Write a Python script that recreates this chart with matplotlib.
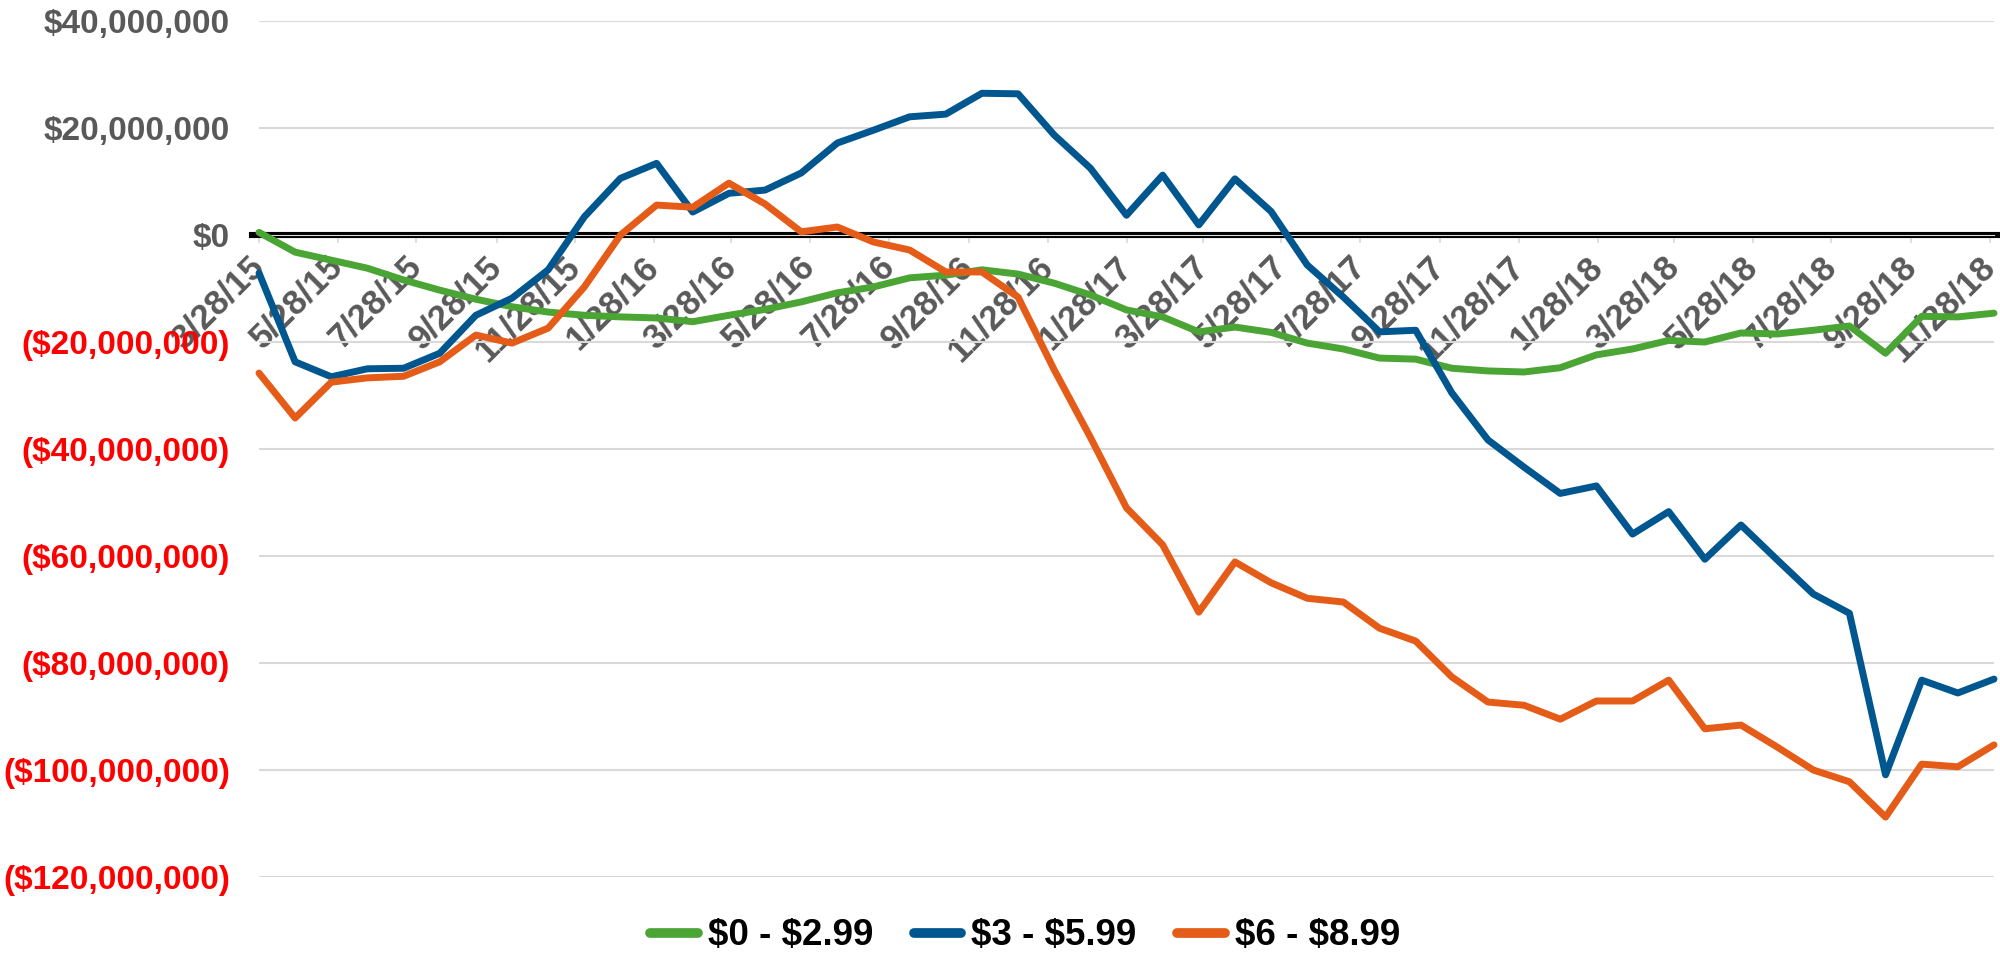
import matplotlib
matplotlib.use("Agg")
import matplotlib.pyplot as plt
from matplotlib import font_manager
import pandas as pd

plt.rcParams["font.family"] = ["Liberation Sans", "DejaVu Sans"]
plt.rcParams["font.weight"] = "bold"

# Four-weekly observation dates
dates = [
    "2015-03-28", "2015-04-25", "2015-05-23", "2015-06-20", "2015-07-18",
    "2015-08-15", "2015-09-12", "2015-10-10", "2015-11-07", "2015-12-05",
    "2016-01-02", "2016-01-30", "2016-02-27", "2016-03-26", "2016-04-23",
    "2016-05-21", "2016-06-18", "2016-07-16", "2016-08-13", "2016-09-10",
    "2016-10-08", "2016-11-05", "2016-12-03", "2016-12-31", "2017-01-28",
    "2017-02-25", "2017-03-25", "2017-04-22", "2017-05-20", "2017-06-17",
    "2017-07-15", "2017-08-12", "2017-09-09", "2017-10-07", "2017-11-04",
    "2017-12-02", "2017-12-30", "2018-01-27", "2018-02-24", "2018-03-24",
    "2018-04-21", "2018-05-19", "2018-06-16", "2018-07-14", "2018-08-11",
    "2018-09-08", "2018-10-06", "2018-11-03", "2018-12-01",
]

series_names = ["$0 - $2.99", "$3 - $5.99", "$6 - $8.99"]
series_colors = ["#4aa534", "#00568f", "#e45c17"]

# Values in millions of dollars
tier_0_299 = [
    0.5, -3.2, -4.7, -6.2, -8.4, -10.3, -12.0, -13.4, -14.4, -15.0,
    -15.3, -15.5, -16.2, -15.0, -13.9, -12.5, -10.8, -9.7, -8.0, -7.5,
    -6.5, -7.3, -9.0, -11.2, -14.0, -15.3, -18.1, -17.2, -18.2, -20.2,
    -21.3, -23.0, -23.2, -24.9, -25.4, -25.6, -24.8, -22.4, -21.3, -19.7,
    -20.0, -18.3, -18.5, -17.8, -17.0, -22.1, -15.2, -15.3, -14.6,
]
tier_3_599 = [
    -7.1, -23.7, -26.5, -25.0, -24.9, -22.1, -15.0, -11.8, -6.5, 3.4,
    10.6, 13.4, 4.3, 7.8, 8.4, 11.6, 17.2, 19.6, 22.1, 22.6,
    26.5, 26.4, 18.7, 12.5, 3.7, 11.2, 1.9, 10.5, 4.4, -5.6,
    -11.6, -18.1, -17.8, -29.5, -38.3, -43.4, -48.3, -46.9, -55.9, -51.7,
    -60.6, -54.2, -60.7, -67.1, -70.7, -100.9, -83.2, -85.6, -83.0,
]
tier_6_899 = [
    -25.8, -34.2, -27.5, -26.7, -26.4, -23.7, -18.7, -20.2, -17.4, -9.7,
    0.0, 5.6, 5.2, 9.7, 5.8, 0.6, 1.5, -1.3, -2.8, -6.9,
    -6.9, -11.6, -25.2, -37.8, -51.0, -57.9, -70.5, -61.1, -65.0, -67.9,
    -68.6, -73.5, -75.9, -82.6, -87.3, -87.9, -90.5, -87.1, -87.1, -83.2,
    -92.3, -91.6, -95.7, -100.0, -102.2, -108.8, -98.9, -99.4, -95.3,
]

x_tick_labels = [
    "3/28/15", "5/28/15", "7/28/15", "9/28/15", "11/28/15",
    "1/28/16", "3/28/16", "5/28/16", "7/28/16", "9/28/16", "11/28/16",
    "1/28/17", "3/28/17", "5/28/17", "7/28/17", "9/28/17", "11/28/17",
    "1/28/18", "3/28/18", "5/28/18", "7/28/18", "9/28/18", "11/28/18",
]
y_ticks = [40, 20, 0, -20, -40, -60, -80, -100, -120]


def money(v):
    s = f"${abs(v) * 1e6:,.0f}"
    return f"({s})" if v < 0 else s


fig = plt.figure(figsize=(20, 9.57), dpi=100)
ax = fig.add_axes([0.1295, 0.0836, 0.8675, 0.8944])

x = pd.to_datetime(dates)
handles = []
for vals, name, color in zip([tier_0_299, tier_3_599, tier_6_899],
                             series_names, series_colors):
    (ln,) = ax.plot(x, vals, color=color, lw=5.0, solid_joinstyle="round",
                    solid_capstyle="round", zorder=3, clip_on=False,
                    label=name.replace("$", r"\$"))
    handles.append(ln)

ax.set_xlim(x[0], x[-1])
ax.set_ylim(-120, 40)

# Horizontal gridlines and the heavy zero axis
ax.yaxis.grid(True, color="#d9d9d9", lw=1.5)
ax.set_axisbelow(True)
for side in ["top", "right", "left"]:
    ax.spines[side].set_visible(False)
ax.spines["bottom"].set_position(("data", 0))
ax.spines["bottom"].set_color("#d9d9d9")
ax.axhline(0, xmin=-0.004, xmax=1.002, color="black", lw=4.4, zorder=2.5,
           clip_on=False)

# Y axis labels: grey for non-negative, red for negative
ax.set_yticks(y_ticks, labels=[money(v) for v in y_ticks])
for lbl, v in zip(ax.get_yticklabels(), y_ticks):
    lbl.set_color("#ff0000" if v < 0 else "#595959")
ax.tick_params(axis="y", length=0, pad=21, labelsize=24)

# X axis date labels
tick_pos = pd.to_datetime(x_tick_labels, format="%m/%d/%y")
ax.set_xticks(tick_pos)
ax.set_xticklabels(x_tick_labels, rotation=45, ha="right", va="center",
                   rotation_mode="anchor")
ax.tick_params(axis="x", length=6, width=1.2, color="#d9d9d9", pad=13,
               labelsize=25, labelcolor="#595959")

# Legend text is set in a narrow face when one is available
try:
    font_manager.findfont("Liberation Sans Narrow", fallback_to_default=False)
    legend_font = {"family": "Liberation Sans Narrow", "weight": "bold",
                   "size": 32}
except ValueError:
    legend_font = {"family": "Liberation Sans", "weight": "bold",
                   "size": 26.5}

leg = fig.legend(handles=handles, loc="center", bbox_to_anchor=(0.5125, 0.022),
                 ncol=3, frameon=False, prop=legend_font, handlelength=1.3,
                 handletextpad=0.27, columnspacing=1.1)
for h in leg.get_lines():
    h.set_linewidth(7)

fig.savefig("out.png", dpi=100, facecolor="white")
